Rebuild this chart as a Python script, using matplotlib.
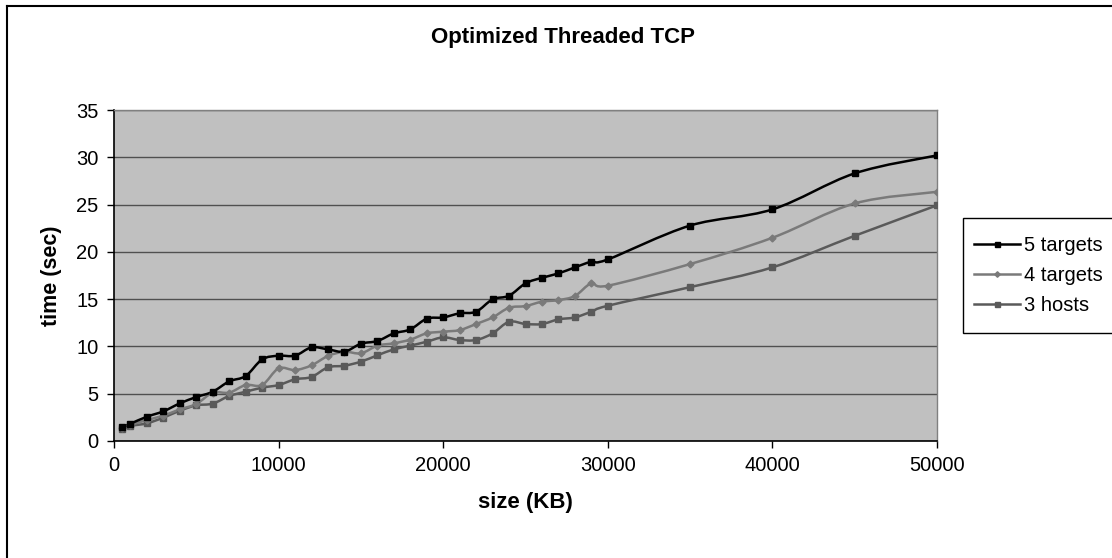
import matplotlib
matplotlib.use("Agg")
import matplotlib.pyplot as plt
from matplotlib.path import Path
from matplotlib.patches import PathPatch, Rectangle
from matplotlib.lines import Line2D

plt.rcParams['font.family'] = ['Liberation Sans', 'DejaVu Sans']

# file size (KB)
sizes = [500, 1000, 2000, 3000, 4000, 5000, 6000, 7000, 8000, 9000, 10000,
         11000, 12000, 13000, 14000, 15000, 16000, 17000, 18000, 19000, 20000,
         21000, 22000, 23000, 24000, 25000, 26000, 27000, 28000, 29000, 30000,
         35000, 40000, 45000, 50000]

# time (sec)
t5_targets = [1.45, 1.83, 2.57, 3.14, 3.98, 4.65, 5.21, 6.31, 6.87, 8.63, 9.02,
              9.02, 9.9, 9.69, 9.44, 10.29, 10.57, 11.38, 11.8, 12.93, 13.07,
              13.5, 13.67, 14.98, 15.36, 16.67, 17.26, 17.72, 18.36, 18.96, 19.2,
              22.78, 24.49, 28.3, 30.2]
t4_targets = [1.34, 1.69, 2.22, 2.68, 3.35, 3.91, 5.11, 5.11, 5.92, 5.92, 7.68,
              7.5, 8.0, 8.99, 9.44, 9.27, 10.08, 10.33, 10.72, 11.38, 11.56,
              11.73, 12.37, 13.07, 14.09, 14.27, 14.73, 14.9, 15.33, 16.67, 16.42,
              18.71, 21.49, 25.12, 26.35]
t3_hosts = [1.23, 1.59, 1.87, 2.47, 3.21, 3.77, 3.95, 4.76, 5.21, 5.64, 5.92,
            6.52, 6.77, 7.79, 7.96, 8.39, 9.06, 9.69, 10.08, 10.5, 10.96,
            10.68, 10.68, 11.38, 12.61, 12.37, 12.37, 12.86, 13.07, 13.67, 14.3,
            16.27, 18.36, 21.7, 24.92]

series = [
    ("5 targets", t5_targets, "#000000", "s", 4.5),
    ("4 targets", t4_targets, "#7a7a7a", "D", 3.5),
    ("3 hosts", t3_hosts, "#5a5a5a", "s", 4.5),
]

W, H = 1112, 558
fig = plt.figure(figsize=(W / 100, H / 100), dpi=100)
ax = fig.add_axes([114 / W, 1 - 441 / H, (937 - 114) / W, (441 - 110) / H])
ax.set_facecolor("#c0c0c0")


def smooth_path(xs, ys):
    # Excel-like smoothed line: cubic bezier through every data point
    verts = [(xs[0], ys[0])]
    codes = [Path.MOVETO]
    n = len(xs)
    for i in range(n - 1):
        x0, y0 = xs[max(i - 1, 0)], ys[max(i - 1, 0)]
        x1, y1 = xs[i], ys[i]
        x2, y2 = xs[i + 1], ys[i + 1]
        x3, y3 = xs[min(i + 2, n - 1)], ys[min(i + 2, n - 1)]
        c1 = (x1 + (x2 - x0) / 6, y1 + (y2 - y0) / 6)
        c2 = (x2 - (x3 - x1) / 6, y2 - (y3 - y1) / 6)
        verts += [c1, c2, (x2, y2)]
        codes += [Path.CURVE4] * 3
    return Path(verts, codes)


handles = []
for label, vals, color, marker, ms in series[::-1]:
    ax.add_patch(PathPatch(smooth_path(sizes, vals), facecolor="none",
                           edgecolor=color, lw=1.8, zorder=3))
    ax.plot(sizes, vals, linestyle="none", marker=marker, ms=ms,
            color=color, zorder=4)
for label, vals, color, marker, ms in series:
    handles.append(Line2D([], [], color=color, lw=1.8, marker=marker,
                          ms=ms * 0.8, label=label))

ax.set_xlim(0, 50000)
ax.set_ylim(0, 35)
ax.set_xticks(range(0, 50001, 10000))
ax.set_yticks(range(0, 36, 5))
ax.yaxis.grid(True, color="#505050", lw=1)
ax.set_axisbelow(True)
for s in ("top", "right"):
    ax.spines[s].set_color("#808080")
    ax.spines[s].set_linewidth(1)
for s in ("left", "bottom"):
    ax.spines[s].set_color("#000000")
    ax.spines[s].set_linewidth(1.2)
ax.tick_params(direction="out", length=5, width=1, labelsize=14.5, pad=6)

ax.set_xlabel("size (KB)", fontsize=16, fontweight="bold", labelpad=12)
ax.set_ylabel("time (sec)", fontsize=15.5, fontweight="bold", labelpad=10)
fig.text(563 / W, 1 - 37 / H, "Optimized Threaded TCP", ha="center",
         va="center", fontsize=16, fontweight="bold")

# legend with a box running off the right edge
fig.patches.append(Rectangle((963 / W, 1 - 333 / H), 0.2, (333 - 218) / H,
                             transform=fig.transFigure, facecolor="white",
                             edgecolor="#000000", lw=1, zorder=1))
leg = fig.legend(handles=handles, loc="center left",
                 bbox_to_anchor=(966 / W, 1 - 275.5 / H), frameon=False,
                 fontsize=14.5, handlelength=2.3, handletextpad=0.2,
                 labelspacing=0.55, borderaxespad=0)

# outer chart border
fig.add_artist(Line2D([7 / W, 7 / W], [0, 1 - 6 / H], color="#000000",
                      lw=1.5, transform=fig.transFigure))
fig.add_artist(Line2D([7 / W, 1], [1 - 6 / H, 1 - 6 / H], color="#000000",
                      lw=1.5, transform=fig.transFigure))

fig.savefig("out.png", dpi=100)
